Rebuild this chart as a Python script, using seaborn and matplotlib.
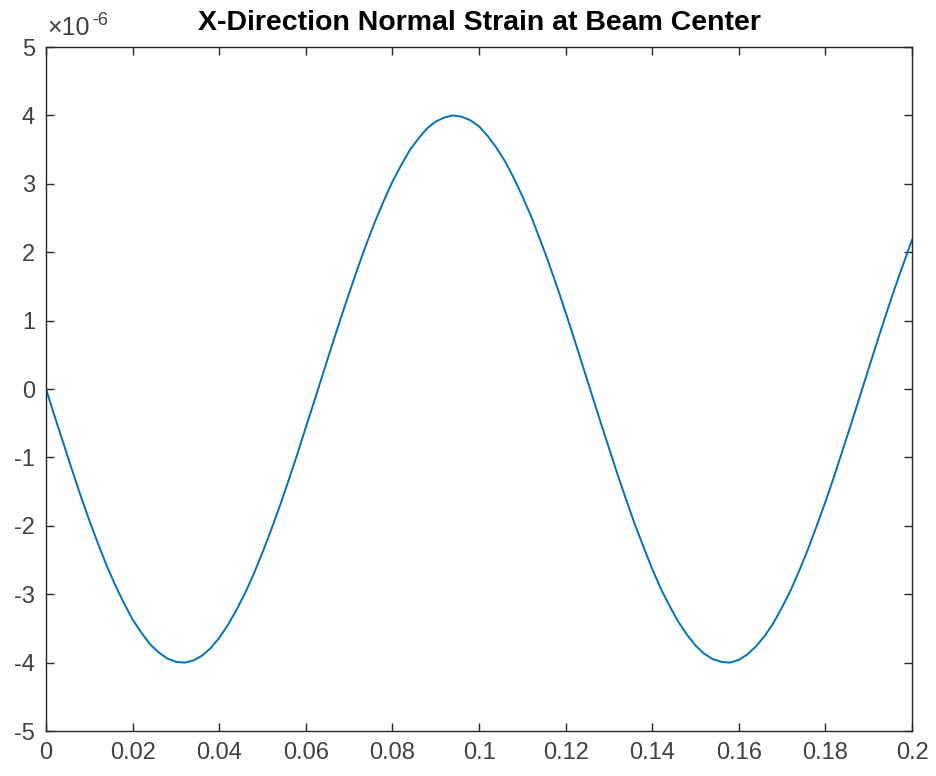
import matplotlib
matplotlib.use('Agg')
import matplotlib.pyplot as plt
import matplotlib.transforms as mtransforms
import numpy as np
import pandas as pd
import seaborn as sns

# time values (s), every 0.002 s from 0 to 0.2
time_s = [round(0.002 * i, 3) for i in range(101)]
# strain (units of 1e-6)
strain_e6 = [0.00, -0.40, -0.79, -1.18, -1.56, -1.92, -2.26, -2.58, -2.87, -3.13,
             -3.37, -3.56, -3.73, -3.85, -3.94, -3.99, -4.00, -3.97, -3.90, -3.79,
             -3.64, -3.45, -3.23, -2.98, -2.70, -2.39, -2.06, -1.71, -1.34, -0.96,
             -0.56, -0.17, 0.23, 0.63, 1.02, 1.40, 1.77, 2.12, 2.45, 2.75,
             3.03, 3.27, 3.49, 3.66, 3.81, 3.91, 3.97, 4.00, 3.98, 3.93,
             3.84, 3.70, 3.53, 3.33, 3.09, 2.82, 2.53, 2.20, 1.86, 1.50,
             1.12, 0.73, 0.33, -0.07, -0.47, -0.86, -1.25, -1.62, -1.98, -2.31,
             -2.63, -2.92, -3.17, -3.40, -3.59, -3.75, -3.87, -3.95, -3.99, -4.00,
             -3.96, -3.88, -3.76, -3.61, -3.42, -3.19, -2.94, -2.65, -2.34, -2.00,
             -1.65, -1.28, -0.89, -0.50, -0.10, 0.30, 0.70, 1.09, 1.47, 1.83,
             2.18]
x_ticks = [0, 0.02, 0.04, 0.06, 0.08, 0.1, 0.12, 0.14, 0.16, 0.18, 0.2]
x_labels = ['0', '0.02', '0.04', '0.06', '0.08', '0.1', '0.12', '0.14', '0.16', '0.18', '0.2']
y_ticks = [-5, -4, -3, -2, -1, 0, 1, 2, 3, 4, 5]

df = pd.DataFrame({'t': time_s, 'strain': strain_e6})

sns.set_style('white')
plt.rcParams['font.family'] = ['Liberation Sans', 'DejaVu Sans']
plt.rcParams['axes.unicode_minus'] = False

fig = plt.figure(figsize=(9.36, 7.76), dpi=100)
ax = fig.add_axes([46 / 936, 45 / 776, 866 / 936, 684 / 776])

sns.lineplot(data=df, x='t', y='strain', ax=ax, color='#0072BD', linewidth=1.4)

ax.set_xlim(0, 0.2)
ax.set_ylim(-5, 5)
ax.set_xticks(x_ticks)
ax.set_xticklabels(x_labels)
ax.set_yticks(y_ticks)
ax.set_xlabel('')
ax.set_ylabel('')

for s in ax.spines.values():
    s.set_visible(True)
    s.set_color('#262626')
    s.set_linewidth(1.0)
ax.tick_params(direction='in', length=6, width=1.0, colors='#262626',
               labelsize=17, top=True, right=True, bottom=True, left=True)
for lbl in ax.get_xticklabels() + ax.get_yticklabels():
    lbl.set_color('#404040')
ax.tick_params(axis='x', pad=8)
ax.tick_params(axis='y', pad=8)

ax.set_title('X-Direction Normal Strain at Beam Center', fontsize=20.5,
             fontweight='bold', color='black', pad=12)

# exponent label at top left, hyphen style like the original
base = ax.text(0.002, 1.010, '\u00d710', transform=ax.transAxes,
               fontsize=18, color='#404040', ha='left', va='bottom')
fig.canvas.draw()
bb = base.get_window_extent()
w_pts = bb.width * 72 / fig.dpi
offs = mtransforms.offset_copy(ax.transAxes, fig=fig, x=w_pts + 1.5, y=8, units='points')
ax.text(0.002, 1.010, '-6', transform=offs, fontsize=13, color='#404040',
        ha='left', va='bottom')

plt.savefig('out.png', dpi=100)
